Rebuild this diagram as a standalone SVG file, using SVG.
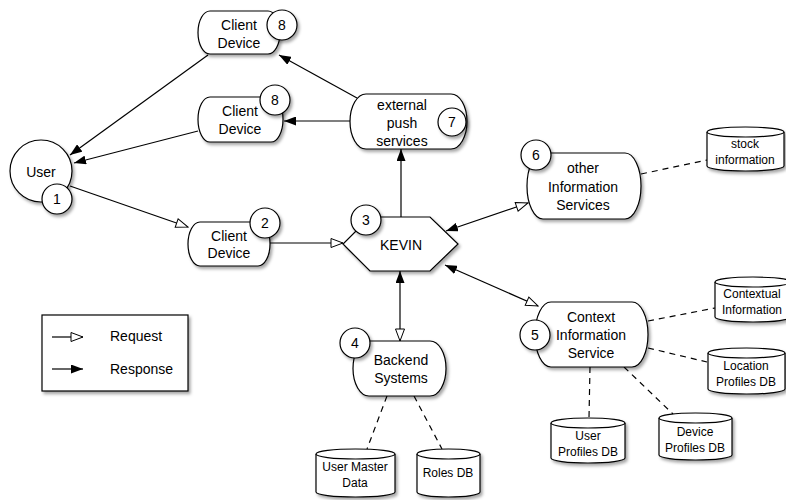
<svg xmlns="http://www.w3.org/2000/svg" width="786" height="500" viewBox="0 0 786 500">
<defs>
<filter id="sh" x="-20%" y="-20%" width="150%" height="150%">
<feDropShadow dx="2" dy="2.5" stdDeviation="1.5" flood-color="#000" flood-opacity="0.35"/>
</filter>
<marker id="fill" viewBox="0 0 12 9" refX="12" refY="4.5" markerWidth="12" markerHeight="9" markerUnits="userSpaceOnUse" orient="auto-start-reverse">
<path d="M0,0 L12,4.5 L0,9 Z" fill="#000"/>
</marker>
<marker id="hollow" viewBox="0 0 14 11" refX="13" refY="5.5" markerWidth="14" markerHeight="11" markerUnits="userSpaceOnUse" orient="auto-start-reverse">
<path d="M1,1 L13,5.5 L1,10 Z" fill="#fff" stroke="#000" stroke-width="1"/>
</marker>
</defs>
<style>
.n{fill:#fff;stroke:#000;stroke-width:1.2;filter:url(#sh)}
.b{fill:#fff;stroke:#000;stroke-width:1.2}
.t{font-family:"Liberation Sans",Arial,sans-serif;font-size:14px;fill:#000;text-anchor:middle}
.s{font-family:"Liberation Sans",Arial,sans-serif;font-size:12px;fill:#000;text-anchor:middle}
.l{font-family:"Liberation Sans",Arial,sans-serif;font-size:14px;fill:#000}
.c{fill:none;stroke:#000;stroke-width:1.2}
.d{fill:none;stroke:#000;stroke-width:1.2;stroke-dasharray:6,5}
.rf{marker-end:url(#fill)}
.rh{marker-end:url(#hollow)}
.bi{marker-start:url(#fill);marker-end:url(#hollow)}
</style>
<rect width="786" height="500" fill="#fff"/>

<g id="connectors">
<line class="c rf" x1="357" y1="98" x2="279" y2="55"/>
<line class="c rf" x1="350" y1="121" x2="284" y2="121"/>
<line class="c rf" x1="208" y1="55" x2="70" y2="155"/>
<line class="c rf" x1="198" y1="131" x2="74" y2="163"/>
<line class="c rh" x1="70" y1="186" x2="188" y2="227"/>
<line class="c rh" x1="270" y1="243" x2="343" y2="243"/>
<line class="c rf" x1="401" y1="217" x2="401" y2="149"/>
<line class="c bi" x1="446" y1="231" x2="528" y2="203"/>
<line class="c bi" x1="445" y1="265" x2="538" y2="306"/>
<line class="c bi" x1="400" y1="271" x2="400" y2="341"/>
<line class="d" x1="641" y1="174" x2="707" y2="160"/>
<line class="d" x1="648" y1="321" x2="715" y2="308"/>
<line class="d" x1="648" y1="348" x2="707" y2="362"/>
<line class="d" x1="590" y1="367" x2="589" y2="418"/>
<line class="d" x1="624" y1="367" x2="673" y2="414"/>
<line class="d" x1="387" y1="396" x2="367" y2="449"/>
<line class="d" x1="414" y1="396" x2="442" y2="449"/>
</g>

<g id="client-top">
<path class="n" d="M210,11 H268 A12,21.5 0 0 1 268,54 H210 A12,21.5 0 0 1 210,11 Z"/>
<text class="t" x="239" y="30">Client</text>
<text class="t" x="239" y="48">Device</text>
<circle class="n" cx="282" cy="25" r="15"/>
<text class="t" x="282" y="30">8</text>
</g>

<g id="client-mid">
<path class="n" d="M210,97 H271 A12,22.5 0 0 1 271,142 H210 A12,22.5 0 0 1 210,97 Z"/>
<text class="t" x="240" y="116">Client</text>
<text class="t" x="240" y="134">Device</text>
<circle class="n" cx="275" cy="100" r="15"/>
<text class="t" x="275" y="105">8</text>
</g>

<g id="user">
<circle class="n" cx="41" cy="171" r="31"/>
<text class="t" x="41" y="177">User</text>
<circle class="n" cx="57" cy="199" r="15"/>
<text class="t" x="57" y="204">1</text>
</g>

<g id="client-2">
<path class="n" d="M200,222 H258 A12,22 0 0 1 258,266 H200 A12,22 0 0 1 200,222 Z"/>
<text class="t" x="229" y="241">Client</text>
<text class="t" x="229" y="258">Device</text>
<circle class="n" cx="265" cy="223" r="15"/>
<text class="t" x="265" y="228">2</text>
</g>

<g id="external-push">
<path class="n" d="M366,94 H451 A16,27.5 0 0 1 451,149 H366 A16,27.5 0 0 1 366,94 Z"/>
<text class="t" x="402" y="110">external</text>
<text class="t" x="402" y="128">push</text>
<text class="t" x="402" y="146">services</text>
<circle class="n" cx="452" cy="122" r="14"/>
<text class="t" x="452" y="127">7</text>
</g>

<g id="kevin">
<polygon class="n" points="370,217 430,217 458,244 430,271 370,271 343,244"/>
<text class="t" x="401" y="250">KEVIN</text>
<circle class="n" cx="366" cy="220" r="15"/>
<text class="t" x="366" y="225">3</text>
</g>

<g id="other-info">
<path class="n" d="M543,153 H625 A16,33 0 0 1 625,219 H543 A16,33 0 0 1 543,153 Z"/>
<text class="t" x="583" y="173">other</text>
<text class="t" x="583" y="192">Information</text>
<text class="t" x="583" y="210">Services</text>
<circle class="n" cx="536" cy="155" r="15"/>
<text class="t" x="536" y="160">6</text>
</g>

<g id="context">
<path class="n" d="M551,302 H632 A16,32.5 0 0 1 632,367 H551 A16,32.5 0 0 1 551,302 Z"/>
<text class="t" x="591" y="322">Context</text>
<text class="t" x="591" y="340">Information</text>
<text class="t" x="591" y="358">Service</text>
<circle class="n" cx="535" cy="335" r="15"/>
<text class="t" x="535" y="340">5</text>
</g>

<g id="backend">
<path class="n" d="M369,341 H430 A16,27.5 0 0 1 430,396 H369 A16,27.5 0 0 1 369,341 Z"/>
<text class="t" x="401" y="365">Backend</text>
<text class="t" x="401" y="383">Systems</text>
<circle class="n" cx="355" cy="343" r="15"/>
<text class="t" x="355" y="348">4</text>
</g>

<g id="stock-db">
<path class="n" d="M707,132 A38.5,5 0 0 1 784,132 V166 A38.5,5 0 0 1 707,166 Z"/>
<path class="b" d="M707,132 A38.5,5 0 0 0 784,132" fill="none"/>
<text class="s" x="745" y="148">stock</text>
<text class="s" x="745" y="164">information</text>
</g>

<g id="contextual-db">
<path class="n" d="M715,282 A38,5 0 0 1 791,282 V317 A38,5 0 0 1 715,317 Z"/>
<path class="b" d="M715,282 A38,5 0 0 0 791,282" fill="none"/>
<text class="s" x="752" y="298">Contextual</text>
<text class="s" x="752" y="314">Information</text>
</g>

<g id="location-db">
<path class="n" d="M708,353 A38.5,5 0 0 1 785,353 V389 A38.5,5 0 0 1 708,389 Z"/>
<path class="b" d="M708,353 A38.5,5 0 0 0 785,353" fill="none"/>
<text class="s" x="746" y="370">Location</text>
<text class="s" x="746" y="386">Profiles DB</text>
</g>

<g id="user-profiles-db">
<path class="n" d="M551,423 A37,5 0 0 1 625,423 V458 A37,5 0 0 1 551,458 Z"/>
<path class="b" d="M551,423 A37,5 0 0 0 625,423" fill="none"/>
<text class="s" x="588" y="440">User</text>
<text class="s" x="588" y="456">Profiles DB</text>
</g>

<g id="device-profiles-db">
<path class="n" d="M659,418 A36.5,5 0 0 1 732,418 V455 A36.5,5 0 0 1 659,455 Z"/>
<path class="b" d="M659,418 A36.5,5 0 0 0 732,418" fill="none"/>
<text class="s" x="695" y="436">Device</text>
<text class="s" x="695" y="452">Profiles DB</text>
</g>

<g id="user-master-db">
<path class="n" d="M316,454 A39.5,5 0 0 1 395,454 V492 A39.5,5 0 0 1 316,492 Z"/>
<path class="b" d="M316,454 A39.5,5 0 0 0 395,454" fill="none"/>
<text class="s" x="355" y="471">User Master</text>
<text class="s" x="355" y="487">Data</text>
</g>

<g id="roles-db">
<path class="n" d="M417,454 A31.5,5 0 0 1 480,454 V492 A31.5,5 0 0 1 417,492 Z"/>
<path class="b" d="M417,454 A31.5,5 0 0 0 480,454" fill="none"/>
<text class="s" x="448" y="477">Roles DB</text>
</g>

<g id="legend">
<rect class="n" x="42" y="315" width="146" height="76"/>
<line class="c rh" x1="52" y1="337" x2="83" y2="337"/>
<line class="c rf" x1="52" y1="369" x2="83" y2="369"/>
<text class="l" x="110" y="341">Request</text>
<text class="l" x="110" y="374">Response</text>
</g>
</svg>
